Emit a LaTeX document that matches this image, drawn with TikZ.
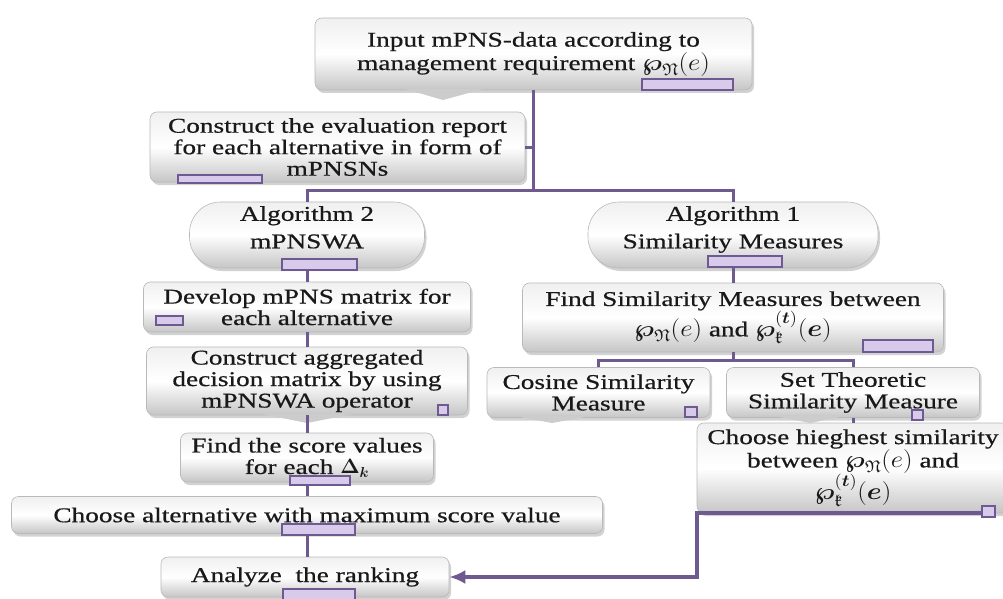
\documentclass[tikz,border=0pt]{standalone}
\usepackage{amsmath,amssymb,graphicx}
\usepackage{fontspec}
\setmainfont{Liberation Serif}[FakeStretch=1.3,FakeBold=0.6]
\usetikzlibrary{shadows,arrows.meta}
\definecolor{ln}{RGB}{110,90,145}
\definecolor{tabfill}{RGB}{216,202,234}
\newcommand\mywpN{\scalebox{1.3}[1.15]{$\boldsymbol{\wp}_{\mathfrak{N}}(e)$}}
\newcommand\mywpT{\scalebox{1.3}[1.15]{$\boldsymbol{\wp}^{(\boldsymbol{t})}_{\mathfrak{k}}(\boldsymbol{e})$}}
\tikzset{
  box/.style={draw=gray!55, line width=0.6pt, rounded corners=7pt,
    top color=gray!12, bottom color=gray!45, middle color=white,
    drop shadow={opacity=0.35,shadow xshift=2pt,shadow yshift=-3pt},
    align=center, inner sep=2pt, text=black!90,
    font=\fontsize{21}{21.5}\selectfont},
  pill/.style={box, rounded corners=31pt},
  conn/.style={draw=ln, line width=3pt},
  bigconn/.style={draw=ln, line width=4pt, -{Latex[length=16pt,width=14pt]}},
  tab/.style={draw=ln, line width=1.2pt, fill=tabfill},
  wedge/.style={fill=gray!40},
}
\begin{document}
\begin{tikzpicture}[x=1pt,y=-1pt]
\fill[white] (0,0) rectangle (1003,599);
\useasboundingbox (0,0) rectangle (1003,599);

% left / top column
\node[box, minimum width=437pt, minimum height=72pt] (in) at (533.5,54)
  {Input mPNS-data according to\\ management requirement \mywpN};
\node[box, minimum width=375pt, minimum height=70pt] (rep) at (337.5,147)
  {Construct the evaluation report\\ for each alternative in form of\\ mPNSNs};
\node[pill, minimum width=235pt, minimum height=66pt] (a2) at (307,235)
  {Algorithm 2\\[6pt] mPNSWA\\[-6pt]\mbox{}};
\node[pill, minimum width=290pt, minimum height=66pt] (a1) at (733,235)
  {Algorithm 1\\[6pt] Similarity Measures\\[-6pt]\mbox{}};
\node[box, minimum width=327pt, minimum height=50pt] (dev) at (307,307)
  {Develop mPNS matrix for\\ each alternative};
\node[box, minimum width=321pt, minimum height=68pt] (agg) at (307,381)
  {Construct aggregated\\ decision matrix by using\\ mPNSWA operator};
\node[box, minimum width=253pt, minimum height=49pt] (sc) at (307,457.5)
  {Find the score values\\ for each $\boldsymbol{\Delta_k}$};
\node[box, minimum width=591pt, minimum height=37pt] (ch) at (307,515)
  {Choose alternative with maximum score value};
\node[box, minimum width=288pt, minimum height=40pt] (an) at (305,577)
  {Analyze\ \ the ranking};

% right column
\node[box, minimum width=421pt, minimum height=69pt] (fs) at (733,317.5)
  {Find Similarity Measures between\\ \mywpN{} and \mywpT};
\node[box, minimum width=223pt, minimum height=50pt] (cos) at (598.5,392.5)
  {Cosine Similarity\\ Measure};
\node[box, minimum width=253pt, minimum height=50pt] (set) at (853,392.5)
  {Set Theoretic\\ Similarity Measure};
\node[box, minimum width=312pt, minimum height=90pt] (hs) at (853,468)
  {Choose hieghest similarity\\ between \mywpN{} and\\ \mywpT};

% callout points
\fill[wedge] (405,89) -- (443,100) -- (483,89) -- cycle;
\fill[wedge] (262,414) -- (307,423) -- (352,414) -- cycle;
\fill[wedge] (515,416) -- (552,423) -- (590,416) -- cycle;
\fill[wedge] (775,416) -- (810,423) -- (845,416) -- cycle;

% connectors
\coordinate (jy) at (0,190);
\coordinate (ky) at (0,360);
\draw[conn] (in.south) -- (in.south |- jy);
\draw[conn] (rep.east) -- (rep.east -| in.south);
\draw[conn] (a2.north) -- (a2.north |- jy) -- (a1.north |- jy) -- (a1.north);
\draw[conn] (a2.south) -- (dev.north);
\draw[conn] (dev.south) -- (agg.north);
\draw[conn] (agg.south) -- (sc.north);
\draw[conn] (sc.south) -- (ch.north);
\draw[conn] (ch.south) -- (ch.south |- an.north);
\draw[conn] (a1.south) -- (fs.north);
\draw[conn] (fs.south) -- (fs.south |- ky);
\draw[conn] (cos.north) -- (cos.north |- ky) -- (set.north |- ky) -- (set.north);
\draw[conn] (set.south) -- (set.south |- hs.north);
\draw[bigconn] ([xshift=-20pt]hs.south east) -- (hs.south west) |- (an.east);

% small tabs
\draw[tab] (642,79) rectangle (733,90);
\draw[tab] (178,175) rectangle (262,183);
\draw[tab] (282,259) rectangle (357,270);
\draw[tab] (708,256) rectangle (782,267);
\draw[tab] (156,316) rectangle (183,325);
\draw[tab] (438,405) rectangle (448,415);
\draw[tab] (290,476) rectangle (350,485);
\draw[tab] (282,524) rectangle (355,535);
\draw[tab] (283,589) rectangle (355,600);
\draw[tab] (863,340) rectangle (933,352);
\draw[tab] (685,407) rectangle (697,417);
\draw[tab] (912,410) rectangle (923,420);
\draw[tab] (982,506) rectangle (995,517);
\end{tikzpicture}
\end{document}
